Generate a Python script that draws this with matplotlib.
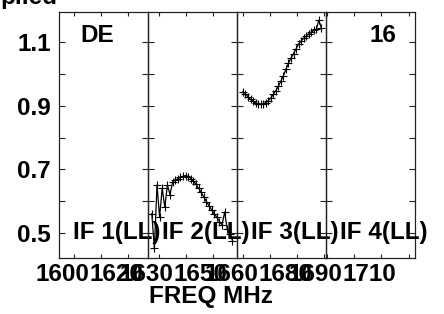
import matplotlib
matplotlib.use('Agg')
import matplotlib.pyplot as plt
import matplotlib.transforms as mtransforms

plt.rcParams['font.family'] = ['Liberation Sans', 'DejaVu Sans']
plt.rcParams['font.weight'] = 'bold'

W, H, DPI = 444, 314, 100
FS = 17.5

# ---- data ----
panel_start = [1594.4, 1626.1, 1657.8, 1689.5]   # MHz at left edge of each panel
panel_span = 32.9                                 # MHz shown per panel
panel_ticks = [[1600, 1610, 1620], [1630, 1640, 1650],
               [1660, 1670, 1680, 1690], [1690, 1700, 1710, 1720]]
panel_labels = [[1600, 1620], [1630, 1650], [1660, 1680], [1690, 1710]]
if_names = ['IF 1(LL)', 'IF 2(LL)', 'IF 3(LL)', 'IF 4(LL)']
y_major = [0.5, 0.7, 0.9, 1.1]
y_minor = [0.6, 0.8, 1.0]
y_range = (0.42, 1.196)

if2_f0, if2_df = 1627.5, 0.962
if2_vals = [0.56, 0.45, 0.65, 0.55, 0.64, 0.58, 0.65, 0.62, 0.66, 0.665,
            0.670, 0.674, 0.678, 0.680, 0.677, 0.670, 0.662, 0.652, 0.640, 0.627,
            0.612, 0.598, 0.585, 0.572, 0.560, 0.548, 0.535, 0.525, 0.565, 0.510,
            0.495, 0.475]
if3_f0, if3_df = 1660.0, 0.935
if3_vals = [0.945, 0.938, 0.928, 0.920, 0.914, 0.909, 0.906, 0.905, 0.906, 0.910,
            0.916, 0.925, 0.936, 0.948, 0.962, 0.978, 0.995, 1.015, 1.035, 1.050,
            1.065, 1.080, 1.095, 1.105, 1.113, 1.120, 1.127, 1.132, 1.138, 1.142,
            1.170, 1.145]
series = {1: (if2_f0, if2_df, if2_vals), 2: (if3_f0, if3_df, if3_vals)}

# ---- layout ----
fig = plt.figure(figsize=(W / DPI, H / DPI), dpi=DPI)
left_px, top_px, bot_px, pw = 59, 12, 258, 89

for i in range(4):
    ax = fig.add_axes([(left_px + i * pw) / W, 1 - bot_px / H, pw / W, (bot_px - top_px) / H])
    ax.patch.set_visible(False)
    ax.set_xlim(panel_start[i], panel_start[i] + panel_span)
    ax.set_ylim(*y_range)
    for s in ax.spines.values():
        s.set_linewidth(0.9)
        s.set_color('#222222')
    ax.set_xticks(panel_ticks[i])
    ax.set_xticklabels([])
    ax.tick_params(axis='x', which='both', direction='in', top=True, bottom=True,
                   length=3.0, width=0.8, color='#222222')
    ax.set_yticks(y_major)
    ax.set_yticks(y_minor, minor=True)
    ax.tick_params(axis='y', which='both', direction='in', left=True, right=True,
                   length=4.0, width=0.8, color='#222222')
    if i == 0:
        ax.set_yticklabels([f'{v:.1f}' for v in y_major])
        ax.tick_params(axis='y', labelsize=FS, pad=6.0)
    else:
        ax.set_yticklabels([])
    # x tick labels (shifted left as in the reference)
    off = mtransforms.ScaledTranslation(-12 / DPI, -5 / DPI, fig.dpi_scale_trans)
    trans = mtransforms.blended_transform_factory(ax.transData, ax.transAxes) + off
    for v in panel_labels[i]:
        ax.text(v, 0, str(v), transform=trans, ha='center', va='top',
                fontsize=FS, fontweight='bold', clip_on=False)
    # IF label
    tr2 = mtransforms.blended_transform_factory(ax.transAxes, ax.transData)
    ax.text(14 / pw, 0.5, if_names[i], transform=tr2, ha='left', va='center',
            fontsize=FS, fontweight='bold', clip_on=False, zorder=5)
    if i in series:
        f0, df, vals = series[i]
        fr = [f0 + k * df for k in range(len(vals))]
        ax.plot(fr, vals, color='black', lw=0.9, marker='+', ms=6, mew=0.8,
                clip_on=False)

fig.text(80 / W, 1 - 36 / H, 'DE', ha='left', va='center', fontsize=FS, fontweight='bold')
fig.text(396 / W, 1 - 36 / H, '16', ha='right', va='center', fontsize=FS, fontweight='bold')
fig.text(211 / W, 1 - 296 / H, 'FREQ MHz', ha='center', va='center', fontsize=FS, fontweight='bold')
fig.text(0 / W, 1 - 4 / H, 'plied', ha='left', va='baseline', fontsize=FS, fontweight='bold')

fig.savefig('out.png', dpi=DPI)
